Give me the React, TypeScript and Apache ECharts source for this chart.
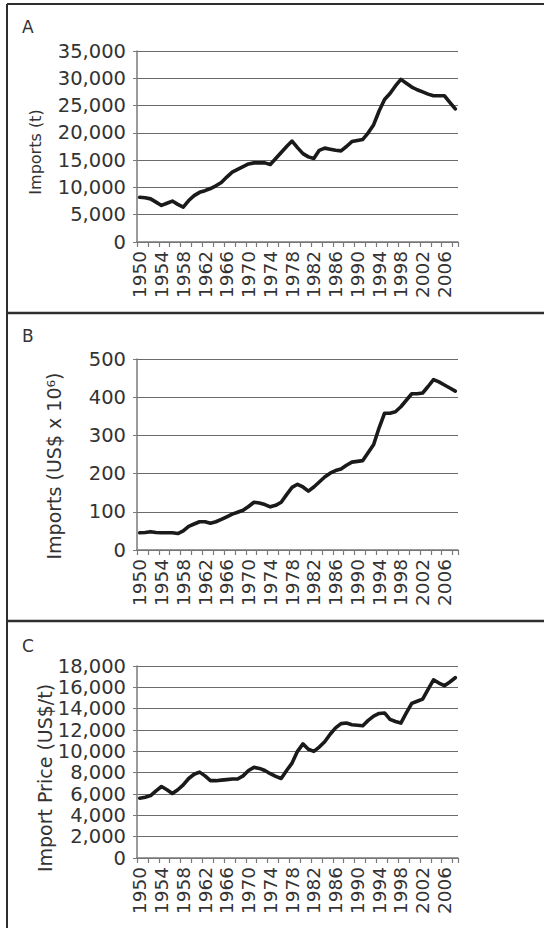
import React, { useEffect, useRef } from "react";
import * as echarts from "echarts";

const years: string[] = [];
for (let y = 1950; y <= 2008; y++) years.push(String(y));

const importsTonnes = [
  8200, 8100, 7900, 7300, 6700, 7100, 7500, 6900, 6400, 7600,
  8500, 9100, 9400, 9800, 10300, 10900, 11900, 12800, 13300, 13800,
  14300, 14500, 14500, 14500, 14200, 15300, 16400, 17500, 18500, 17300,
  16200, 15600, 15300, 16800, 17200, 17000, 16800, 16700, 17500, 18400,
  18600, 18800, 20000, 21500, 24000, 26100, 27200, 28600, 29800, 29100,
  28400, 27900, 27500, 27100, 26800, 26800, 26800, 25600, 24400,
];

const importsValue = [
  45, 46, 48, 46, 45, 45, 45, 43, 50, 62,
  68, 74, 74, 70, 74, 80, 87, 94, 99, 104,
  114, 125, 123, 119, 113, 117, 125, 145, 164, 172,
  165, 154, 165, 178, 191, 201, 208, 212, 222, 230,
  232, 234, 255, 276, 320, 358, 358, 362, 375, 392,
  409, 409, 411, 428, 446, 440, 432, 424, 416,
];

const importPrice = [
  5600, 5700, 5850, 6300, 6700, 6400, 6050, 6400, 6850, 7450,
  7850, 8050, 7700, 7250, 7250, 7300, 7350, 7400, 7400, 7700,
  8200, 8500, 8400, 8200, 7900, 7650, 7450, 8200, 8900, 10000,
  10700, 10200, 10000, 10400, 10900, 11600, 12200, 12600, 12650, 12500,
  12450, 12400, 12900, 13300, 13550, 13600, 13000, 12800, 12650, 13600,
  14500, 14700, 14900, 15800, 16700, 16400, 16150, 16500, 16900,
];

const panelLetters = ["A", "B", "C"];
const yTitles = ["Imports (t)", "Imports (US$ x 10⁶)", "Import Price (US$/t)"];

const FONT = "DejaVu Sans";

export default function App() {
  const ref = useRef<HTMLDivElement>(null);
  useEffect(() => {
    if (!ref.current) return;
    const chart = echarts.init(ref.current, null, { renderer: "svg" });
    const grids = [
      { left: 137, right: 86, top: 51, height: 191 },
      { left: 137, right: 86, top: 359, height: 191 },
      { left: 137, right: 86, top: 666, height: 192 },
    ];
    const yCfg = [
      { max: 35000, interval: 5000 },
      { max: 500, interval: 100 },
      { max: 18000, interval: 2000 },
    ];
    const seriesData = [importsTonnes, importsValue, importPrice];
    const axisColor = "#7a7a7a";
    const xAxes = grids.map((_, i) => ({
      type: "category",
      gridIndex: i,
      data: years,
      boundaryGap: true,
      axisLine: { show: true, lineStyle: { color: axisColor, width: 1.5 } },
      axisTick: { show: true, interval: 1, length: 5, lineStyle: { color: axisColor, width: 1.2 } },
      axisLabel: {
        interval: 3,
        rotate: 90,
        fontFamily: FONT,
        fontSize: 18.5,
        color: "#333",
        margin: 9,
      },
      splitLine: { show: false },
    }));
    const yAxes = grids.map((_, i) => ({
      type: "value",
      gridIndex: i,
      min: 0,
      max: yCfg[i].max,
      interval: yCfg[i].interval,
      axisLine: { show: true, lineStyle: { color: axisColor, width: 1.5 } },
      axisTick: { show: true, length: 4, lineStyle: { color: axisColor } },
      axisLabel: {
        fontFamily: FONT,
        fontSize: 19.5,
        color: "#333",
        margin: 11,
        formatter: (v: number) => v.toLocaleString("en-US"),
      },
      splitLine: { show: true, lineStyle: { color: "#6a6a6a", width: 1.2 } },
    }));
    const series = seriesData.map((d, i) => ({
      type: "line",
      xAxisIndex: i,
      yAxisIndex: i,
      data: d,
      symbol: "none",
      lineStyle: { color: "#1a1a1a", width: 3.6, join: "round", cap: "round" },
    }));

    const titlePos = [
      { x: 35, y: 152, size: 16 },
      { x: 54, y: 466, size: 19 },
      { x: 45, y: 778, size: 19 },
    ];
    const letterPos = [
      { x: 22, y: 18 },
      { x: 22, y: 327 },
      { x: 22, y: 637 },
    ];
    const borderColor = "#2e2e2e";
    const graphic: any[] = [
      { type: "line", shape: { x1: 7, y1: 4, x2: 560, y2: 4 }, style: { stroke: borderColor, lineWidth: 2 } },
      { type: "line", shape: { x1: 7, y1: 313, x2: 560, y2: 313 }, style: { stroke: borderColor, lineWidth: 2.5 } },
      { type: "line", shape: { x1: 7, y1: 621, x2: 560, y2: 621 }, style: { stroke: borderColor, lineWidth: 2.5 } },
      { type: "line", shape: { x1: 7, y1: 4, x2: 7, y2: 940 }, style: { stroke: borderColor, lineWidth: 2 } },
    ];
    panelLetters.forEach((l, i) => {
      graphic.push({
        type: "text",
        x: letterPos[i].x,
        y: letterPos[i].y,
        style: { text: l, fontFamily: FONT, fontSize: 17, fill: "#333" },
      });
    });
    yTitles.forEach((t, i) => {
      graphic.push({
        type: "text",
        x: titlePos[i].x,
        y: titlePos[i].y,
        rotation: Math.PI / 2,
        style: {
          text: t,
          fontFamily: FONT,
          fontSize: titlePos[i].size,
          fill: "#333",
          align: "center",
          verticalAlign: "middle",
        },
      });
    });

    chart.setOption({
      animation: false,
      backgroundColor: "#ffffff",
      grid: grids,
      xAxis: xAxes,
      yAxis: yAxes,
      series,
      graphic,
    });
    return () => chart.dispose();
  }, []);
  return (
    <div
      ref={ref}
      style={{ position: "absolute", left: 0, top: 0, width: 544, height: 928 }}
    />
  );
}
